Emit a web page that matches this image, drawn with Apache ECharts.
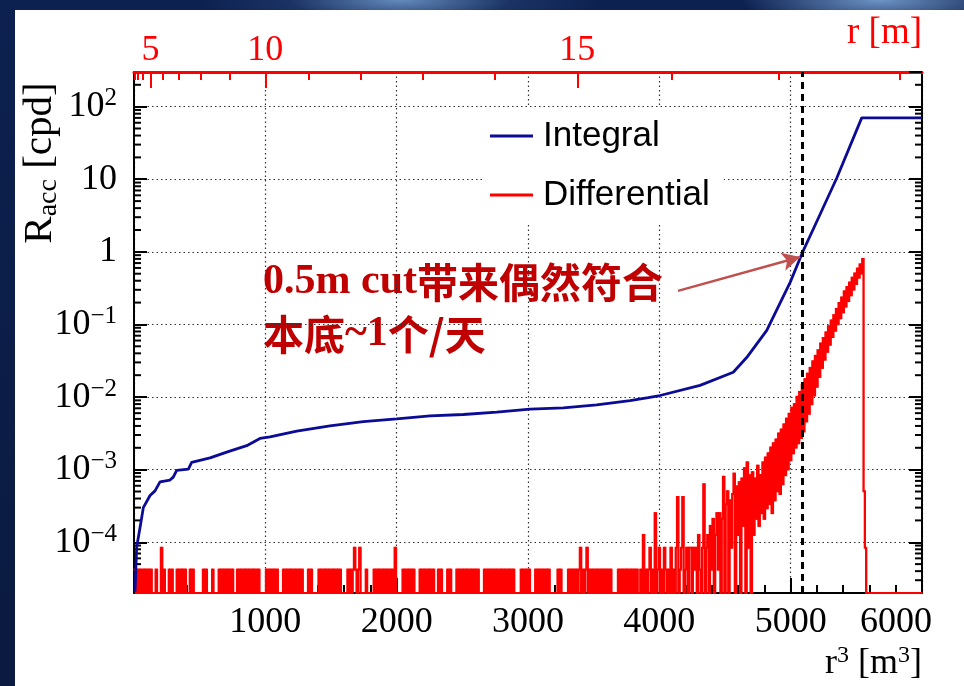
<!DOCTYPE html>
<html><head><meta charset="utf-8">
<script src="https://cdn.jsdelivr.net/npm/echarts@6/dist/echarts.min.js"></script>
<style>
html,body{margin:0;padding:0;width:964px;height:686px;overflow:hidden;}
body{background:
 radial-gradient(ellipse 200px 40px at 400px 0px, rgba(110,150,200,0.9) 0%, rgba(40,70,120,0.5) 55%, rgba(0,0,0,0) 100%),
 radial-gradient(ellipse 140px 30px at 880px 0px, rgba(120,160,210,0.9) 0%, rgba(0,0,0,0) 100%),
 linear-gradient(180deg,#0d2150 0%, #0a1a40 100%);}
#panel{position:absolute;left:15px;top:10px;width:949px;height:676px;background:#fff;}
#chart{position:absolute;left:0;top:0;width:964px;height:686px;}
</style></head><body><div id="panel"></div><div id="chart"></div>
<script>
// ---- data ----
const binWidth = 10;            // r^3 bin width (m^3) of the differential histogram
const cpdPerCount = 4.2e-5;     // rate of one accidental count (cpd)
const diffCounts = [
 1,0,1,0,1,0,1,0,1,0,1,0,1,0,0,0,1,0,0,0,
 2,0,1,0,0,0,1,0,1,0,0,0,1,0,1,0,1,0,1,0,
 0,0,1,0,1,0,0,0,0,0,0,0,1,0,1,0,0,0,0,1,
 0,0,0,0,1,0,1,0,1,0,1,0,1,0,1,0,0,0,1,0,
 1,0,1,0,1,0,1,0,1,0,1,0,1,0,1,0,0,0,0,0,
 1,0,1,0,1,0,1,0,1,0,0,0,0,1,0,1,0,1,0,1,
 0,1,0,1,0,1,0,1,0,0,0,0,1,0,1,0,0,0,0,0,
 1,0,1,0,1,0,1,0,1,0,1,0,1,0,1,0,1,0,0,0,
 0,0,1,0,1,0,1,2,1,0,1,2,0,0,0,0,1,0,0,0,
 0,0,1,0,1,0,1,0,1,0,1,0,1,0,1,0,1,0,2,0,
 0,0,0,0,1,0,1,0,1,0,1,0,1,0,0,0,0,1,0,1,
 0,1,0,1,0,1,0,1,0,0,0,1,0,1,0,0,0,0,1,0,
 1,0,0,0,0,1,0,1,0,1,0,1,0,1,0,1,0,1,0,1,
 0,1,0,0,0,0,1,0,1,0,1,0,1,0,1,0,1,0,1,0,
 1,0,1,0,1,0,1,0,1,0,0,0,0,0,1,0,1,0,1,0,
 1,0,0,0,0,1,0,1,0,1,0,1,0,1,0,1,0,0,0,0,
 0,0,1,0,1,0,0,0,0,0,1,0,1,0,1,0,1,0,1,2,
 0,1,0,1,2,0,1,0,1,0,1,0,1,0,1,0,1,0,1,0,
 1,0,1,0,0,0,0,0,1,0,1,0,1,0,1,0,1,0,1,0,
 1,0,1,0,0,1,0,3,0,1,0,1,2,0,1,0,6,0,1,2,
 0,1,0,2,1,0,1,0,2,0,1,0,2,10,0,1,2,10,0,1,
 2,0,2,2,0,2,1,2,0,3,1,0,2,15,0,2,3,0,4,1,
 5,0,3,6,1,6,0,5,19,0,8,12,0,9,2,11,21,0,14,3,
 16,0,18,4,25,0,30,2,20,0,22,3,18,5,27,4,20,6,30,5,
 35,7,40,8,48,6,55,9,62,12,75,11,85,15,100,20,120,24,140,32,
 170,40,190,48,240,55,280,65,350,80,420,110,500,140,600,190,740,250,880,330,
 1050,450,1300,600,1550,780,1850,1000,2250,1250,2700,1600,3200,1950,3900,2400,4700,2900,5600,3500,
 6800,4200,7800,5000,9000,6000,10500,7200,12000,8600,14000,10500,16000,12000,19000,12,2,0,0,0,
 0,0,0,0,0,0,0,0,0,0,0,0,0,0,0,0,0,0,0,0,
 0,0,0,0,0,0,0,0,0,0,0,0,0,0,0,0,0,0,0,0
];
const integralX = [8,14,20,46,71,122,160,198,274,299,325,414,439,579,706,858,959,1036,1239,1492,1746,2000,2254,2508,2762,3015,3269,3523,3777,3916,4005,4310,4563,4665,4818,4996,5097,5198,5351,5541,6000];
const integralY = [2.1e-5,4.2e-5,8.5e-5,1.6e-4,3.0e-4,4.4e-4,5.1e-4,6.8e-4,7.2e-4,7.9e-4,9.8e-4,1.02e-3,1.26e-3,1.45e-3,1.74e-3,2.14e-3,2.69e-3,2.82e-3,3.4e-3,4.0e-3,4.6e-3,5.0e-3,5.5e-3,5.75e-3,6.2e-3,6.8e-3,7.1e-3,7.8e-3,8.9e-3,9.8e-3,1.05e-2,1.45e-2,2.2e-2,3.5e-2,8.3e-2,0.38,1.05,2.6,10.4,70,70];
const seriesNames = ['Integral','Differential'];
const xMin = 0, xMax = 6000, xStep = 1000;
const yMin = 2e-5, yMax = 300;
const rMajor = [5,10,15];                 // top axis labels r [m]
const rMinor = [2,3,4,6,7,8,9,11,12,13,14,16,17,18];
const cutR3 = 5088;                       // 0.5 m cut position in r^3
const arrowFrom = [4142, 0.29];
const arrowTo = [5072, 0.85];
const noteLine1 = ['0.5m cut','带来偶然符合'];
const noteLine2 = ['本底','~1','个/天'];

// ---- build ----
const serif = "'Liberation Serif','Times New Roman',serif";
const binVal = c => c>0 ? c*cpdPerCount : yMin;   // empty bins sit on the frame, as in ROOT
// each histogram column: [x0, x1, previous-bin value, this-bin value]
const diffData = diffCounts.map((c,i)=>[i*binWidth, (i+1)*binWidth, binVal(i>0 ? diffCounts[i-1] : c), binVal(c)]);
const intData = integralX.map((x,i)=>[x, integralY[i]]);
const minorVals = [];
for (let k=-5;k<=2;k++) for (let m=2;m<=9;m++){ const v=m*Math.pow(10,k); if (v>yMin*1.001 && v<yMax*0.999) minorVals.push([xMin, v]); }
const cube = r=>r*r*r;

function yLab(v){
  const e = Math.round(Math.log10(v));
  if (e===0) return '1';
  if (e===1) return '10';
  return '10{sup|' + (e<0 ? '\u2212'+(-e) : e) + '}';
}
const blue = '#0b0b96', red = '#ff0000';

const chart = echarts.init(document.getElementById('chart'), null, {renderer:'canvas'});
const option = {
  animation:false,
  grid:{left:134,right:42,top:72,bottom:93},
  legend:{left:482, top:107, orient:'vertical', padding:[9,14,10,8], itemGap:19, itemWidth:43, itemHeight:3,
    icon:'rect', backgroundColor:'#fff', selectedMode:false,
    data:[{name:seriesNames[0], itemStyle:{color:blue}}, {name:seriesNames[1], itemStyle:{color:red}}],
    textStyle:{fontFamily:"'Liberation Sans',Arial,sans-serif", fontSize:35, color:'#000', lineHeight:40, padding:[0,0,0,5]}},
  xAxis:[
    {type:'value', position:'bottom', min:xMin, max:xMax, interval:xStep,
     axisLine:{show:true, onZero:false, lineStyle:{color:'#000', width:2}},
     axisTick:{show:true, inside:true, length:15, lineStyle:{color:'#000', width:2}},
     minorTick:{show:true, splitNumber:5, length:8, lineStyle:{color:'#000', width:2}},
     axisLabel:{margin:12, fontFamily:serif, fontSize:36, color:'#000', showMinLabel:false,
       formatter:v=> v===xMax ? '{last|'+v+'}' : String(v),
       rich:{last:{fontFamily:serif, fontSize:36, color:'#000', padding:[0,52,0,0]}}},
     splitLine:{show:true, lineStyle:{type:[1.5,3], color:'#333', width:1.2}}},
    {type:'value', position:'top', min:xMin, max:xMax,
     axisLine:{show:true, onZero:false, lineStyle:{color:red, width:3}},
     axisTick:{show:true, inside:true, length:16, customValues:rMajor.map(cube), lineStyle:{color:red, width:2}},
     axisLabel:{show:true, customValues:rMajor.map(cube), margin:3, fontFamily:serif, fontSize:36, color:red,
       formatter:v=>String(Math.round(Math.cbrt(v)))},
     splitLine:{show:false}},
    {type:'value', position:'top', min:xMin, max:xMax,
     axisLine:{show:false},
     axisTick:{show:true, inside:true, length:8, customValues:rMinor.map(cube), lineStyle:{color:red, width:2}},
     axisLabel:{show:false}, splitLine:{show:false}}
  ],
  yAxis:[
    {type:'log', logBase:10, position:'left', min:yMin, max:yMax,
     axisLine:{show:true, onZero:false, lineStyle:{color:'#000', width:2}},
     axisTick:{show:true, inside:true, length:13, lineStyle:{color:'#000', width:2}},
     axisLabel:{margin:17, fontFamily:serif, fontSize:36, color:'#000', lineHeight:41, showMinLabel:false, showMaxLabel:false,
       formatter:yLab, rich:{sup:{fontFamily:serif, fontSize:25, lineHeight:25, verticalAlign:'top', color:'#000'}}},
     splitLine:{show:true, lineStyle:{type:[1.5,3], color:'#333', width:1.2}}},
    {type:'log', logBase:10, position:'right', min:yMin, max:yMax,
     axisLine:{show:true, onZero:false, lineStyle:{color:'#000', width:2}},
     axisTick:{show:true, inside:true, length:13, lineStyle:{color:'#000', width:2}},
     axisLabel:{show:false}, splitLine:{show:false}}
  ],
  series:[
    {name:seriesNames[0], type:'line', data:intData, symbol:'none', z:4, color:blue,
     lineStyle:{color:blue, width:2.8}, itemStyle:{color:blue},
     markLine:{silent:true, animation:false, symbol:['none','none'], label:{show:false},
       data:[
         {xAxis:cutR3, lineStyle:{type:[7,5], width:3, color:'#000'}},
         [{coord:arrowFrom, symbol:'none', lineStyle:{color:'#c0504d', width:2.5, type:'solid'}},
          {coord:arrowTo, symbol:'arrow', symbolSize:[14,18]}]
       ]}},
    {name:seriesNames[1], type:'custom', data:diffData, z:3, clip:false, silent:true, color:red,
     itemStyle:{color:red}, encode:{x:[0,1], y:[2,3]},
     renderItem:(params, api)=>{
       const a = api.coord([api.value(0), api.value(2)]);
       const b = api.coord([api.value(1), api.value(3)]);
       const top = Math.min(a[1], b[1]) - 1, bot = Math.max(a[1], b[1]) + 1;
       return {type:'rect', shape:{x:a[0]-0.5, y:top, width:(b[0]-a[0])+1, height:bot-top}, style:{fill:red}};
     }},
    {type:'custom', silent:true, z:1, clip:false, data:minorVals, encode:{x:0,y:1},
     renderItem:(params, api)=>{
       const v = api.value(1);
       const pL = api.coord([xMin, v]), pR = api.coord([xMax, v]);
       return {type:'group', children:[
         {type:'line', shape:{x1:pL[0], y1:pL[1], x2:pL[0]+7, y2:pL[1]}, style:{stroke:'#000', lineWidth:2}},
         {type:'line', shape:{x1:pR[0]-7, y1:pR[1], x2:pR[0], y2:pR[1]}, style:{stroke:'#000', lineWidth:2}}
       ]};
     }}
  ],
  graphic:[
    {type:'text', x:40, y:163, rotation:Math.PI/2, silent:true,
     style:{text:'R{sub|acc} [cpd]', fontFamily:serif, fontSize:41, fill:'#000', align:'center', verticalAlign:'middle', lineHeight:46,
       rich:{sub:{fontFamily:serif, fontSize:28, lineHeight:28, verticalAlign:'bottom', fill:'#000'}}}},
    {type:'text', x:922, y:33, silent:true,
     style:{text:'r [m]', fontFamily:serif, fontSize:37, fill:red, align:'right', verticalAlign:'middle'}},
    {type:'text', x:922, y:664, silent:true,
     style:{text:'r{sup|3} [m{sup|3}]', fontFamily:serif, fontSize:36, fill:'#000', align:'right', verticalAlign:'middle', lineHeight:40,
       rich:{sup:{fontFamily:serif, fontSize:24, lineHeight:24, verticalAlign:'top', fill:'#000'}}}},
    {type:'text', x:263, y:256, silent:true,
     style:{text:'{b|'+noteLine1[0]+'}{c|'+noteLine1[1]+'}\n{c|'+noteLine2[0]+'}{b|'+noteLine2[1]+'}{c|'+noteLine2[2]+'}',
       align:'left', verticalAlign:'top', fill:'#c00000',
       rich:{b:{fontFamily:serif, fontWeight:'bold', fontSize:42, lineHeight:52, fill:'#c00000'},
             c:{fontFamily:"'Noto Sans CJK SC',sans-serif", fontWeight:'bold', fontSize:41, lineHeight:52, fill:'#c00000'}}}}
  ]
};
chart.setOption(option);
</script></body></html>
